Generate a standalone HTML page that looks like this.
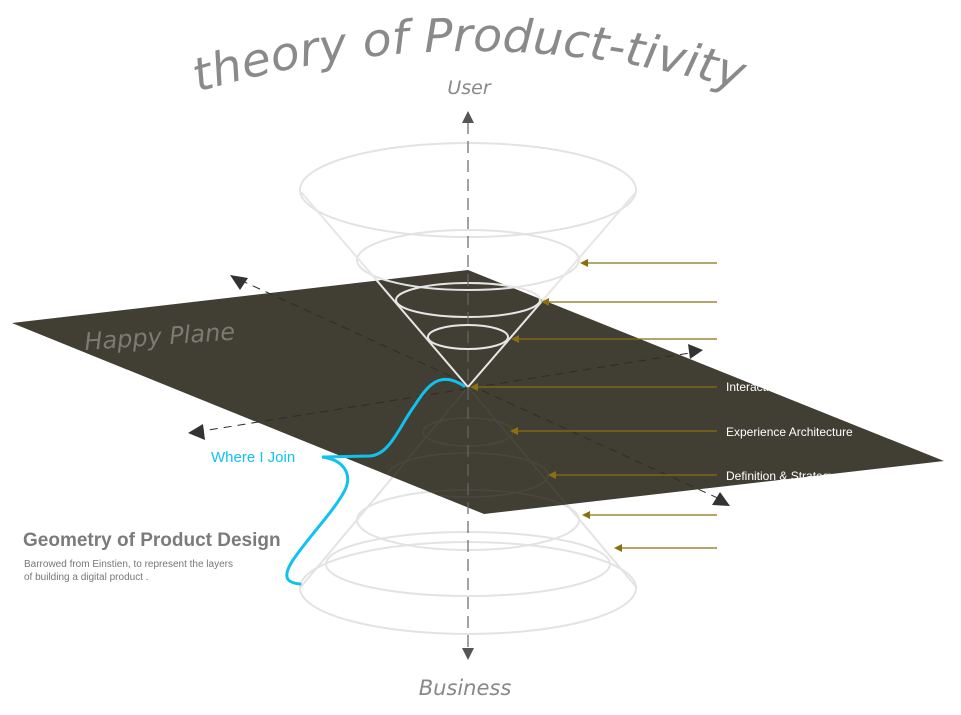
<!DOCTYPE html>
<html><head><meta charset="utf-8"><style>
html,body{margin:0;padding:0;background:#fff;}
svg{display:block;font-family:"Liberation Sans","DejaVu Sans",sans-serif;}
</style></head><body>
<svg width="961" height="715" viewBox="0 0 961 715" xmlns="http://www.w3.org/2000/svg">
<defs>
<path id="arc" d="M198,92 Q470,10 748,92"/>
<clipPath id="planeClip"><polygon points="12,323 468,270 944,461 484,514"/></clipPath>
</defs>
<text font-size="46" font-style="italic" fill="#8a8a8a" font-weight="200" style="font-family:'DejaVu Sans','Liberation Sans',sans-serif"><textPath href="#arc" textLength="550" lengthAdjust="spacingAndGlyphs">theory of Product-tivity</textPath></text>
<text x="469" y="94" font-size="19" font-style="italic" fill="#888" text-anchor="middle" font-weight="200" style="font-family:'DejaVu Sans','Liberation Sans',sans-serif">User</text>
<text x="465" y="695" font-size="21" font-style="italic" fill="#888" text-anchor="middle" font-weight="200" style="font-family:'DejaVu Sans','Liberation Sans',sans-serif">Business</text>

<!-- lower cone -->
<g fill="none" stroke="#e3e3e3" stroke-width="2">
<line x1="300" y1="588" x2="468" y2="387"/><line x1="637" y1="588" x2="468" y2="387"/>
<ellipse cx="468" cy="588" rx="168" ry="46"/>
<ellipse cx="468" cy="564" rx="142" ry="32"/>
<ellipse cx="468" cy="520" rx="111" ry="30"/>
</g>

<!-- plane -->
<polygon points="12,323 468,270 944,461 484,514" fill="#413e33"/>
<g clip-path="url(#planeClip)" fill="none" stroke="#4a473c" stroke-width="1.5">
<ellipse cx="468" cy="520" rx="111" ry="30"/>
<ellipse cx="468" cy="475" rx="80" ry="22"/>
<ellipse cx="468" cy="432" rx="45" ry="14"/>
<line x1="300" y1="588" x2="468" y2="387"/><line x1="637" y1="588" x2="468" y2="387"/>
</g>
<text x="85" y="350" font-size="24" font-style="italic" fill="#7c7a72" font-weight="200" transform="rotate(-4 85 350)" style="font-family:'DejaVu Sans','Liberation Sans',sans-serif">Happy Plane</text>

<!-- axes -->
<g stroke-width="1" stroke-dasharray="8,6" fill="none">
<line x1="240" y1="280" x2="722" y2="500" stroke="#2e2c25"/>
<line x1="196" y1="432" x2="696" y2="352" stroke="#2e2c25"/>
</g>
<polygon points="230,275 248,278 240,290" fill="#333"/>
<polygon points="730,506 712,505 720,492" fill="#333"/>
<polygon points="188,433 203,424 205,440" fill="#333"/>
<polygon points="703,350 688,344 690,359" fill="#333"/>

<!-- upper cone -->
<g fill="none" stroke="#e3e3e3" stroke-width="2">
<ellipse cx="468" cy="190" rx="168" ry="47"/>
<ellipse cx="468" cy="260" rx="111" ry="30"/>
</g>
<g fill="none" stroke="#e6e6e6" stroke-width="2">
<line x1="301" y1="192" x2="468" y2="387"/><line x1="636" y1="192" x2="468" y2="387"/>
<ellipse cx="468" cy="300" rx="72" ry="17"/>
<ellipse cx="468" cy="337" rx="40" ry="12"/>
</g>

<!-- vertical axis -->
<line x1="468" y1="122" x2="468" y2="650" stroke="#666" stroke-width="1.2" stroke-dasharray="12,7"/>
<polygon points="468,111 462,123 474,123" fill="#555"/>
<polygon points="468,660 462,648 474,648" fill="#555"/>

<!-- gold arrows -->
<g stroke="#8b6f10" stroke-width="1.3">
<line x1="586" y1="263" x2="717" y2="263"/>
<line x1="547" y1="302" x2="717" y2="302"/>
<line x1="517" y1="339" x2="717" y2="339"/>
<line x1="476" y1="387" x2="717" y2="387"/>
<line x1="516" y1="431" x2="717" y2="431"/>
<line x1="554" y1="475" x2="717" y2="475"/>
<line x1="588" y1="515" x2="717" y2="515"/>
<line x1="620" y1="548" x2="717" y2="548"/>
</g>
<g fill="#8b6f10">
<polygon points="580,263 588,259 588,267"/>
<polygon points="541,302 549,298 549,306"/>
<polygon points="511,339 519,335 519,343"/>
<polygon points="470,387 478,383 478,391"/>
<polygon points="510,431 518,427 518,435"/>
<polygon points="548,475 556,471 556,479"/>
<polygon points="582,515 590,511 590,519"/>
<polygon points="614,548 622,544 622,552"/>
</g>
<g clip-path="url(#planeClip)" fill="#fff" font-size="12">
<text x="726" y="391">Interaction Design</text>
<text x="726" y="436">Experience Architecture</text>
<text x="726" y="480">Definition &amp; Strategy</text>
</g>

<!-- blue path -->
<path d="M464,386 C440,370 428,385 415,405 C400,425 390,455 370,456 L322,457 C345,460 352,475 345,490 C335,510 310,535 293,560 C280,580 290,583 300,584" fill="none" stroke="#0fc2ef" stroke-width="3" stroke-linecap="round"/>
<text x="211" y="462" font-size="15" fill="#10c2f0">Where I Join</text>

<text x="23" y="546" font-size="19" font-weight="bold" fill="#7b7b7b">Geometry of Product Design</text>
<text x="24" y="567" font-size="10" fill="#777">Barrowed from Einstien, to represent the layers</text>
<text x="24" y="580" font-size="10" fill="#777">of building a digital product .</text>
</svg>
</body></html>
